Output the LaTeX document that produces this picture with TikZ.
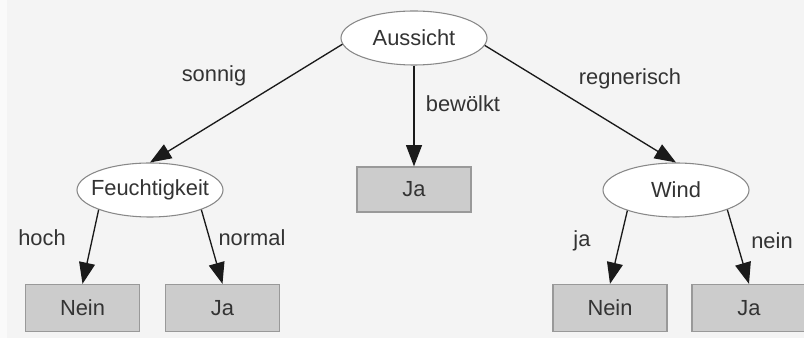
\documentclass[tikz,border=0pt]{standalone}
\usepackage{fontspec}
\setmainfont{Liberation Sans}
\usetikzlibrary{shapes.geometric,arrows.meta}
\definecolor{bgcol}{HTML}{F4F4F4}
\definecolor{stripcol}{HTML}{FAFAFA}
\definecolor{txtcol}{HTML}{333333}
\definecolor{boxfill}{HTML}{CCCCCC}
\definecolor{boxline}{HTML}{999999}
\definecolor{ellline}{HTML}{888888}
\definecolor{edgecol}{HTML}{1A1A1A}
% ellipse size is fixed; the label is centred in a zero-width box
\newcommand{\ctrtext}[1]{\makebox[0pt][c]{#1}}
\tikzset{
  attr/.style={ellipse, draw=ellline, line width=0.8pt, fill=white,
    minimum width=109.5pt, minimum height=40.5pt, inner sep=0pt,
    text=txtcol, font=\fontsize{16.4}{19}\selectfont},
  leaf/.style={rectangle, draw=boxline, line width=1.2pt, fill=boxfill,
    minimum width=85.5pt, minimum height=35pt, inner sep=0pt,
    text=txtcol, font=\fontsize{16.4}{19}\selectfont},
  elabel/.style={text=txtcol, font=\fontsize{16.4}{19}\selectfont, inner sep=0pt},
  edge/.style={draw=edgecol, line width=1pt,
    -{Triangle[length=16pt,width=12pt]}},
}
\begin{document}
\begin{tikzpicture}[x=0.75pt,y=-0.75pt]
  % canvas
  \fill[bgcol] (0,0) rectangle (804,338);
  \fill[stripcol] (0,0) rectangle (7,338);
  \useasboundingbox (0,0) rectangle (804,338);

  % decision nodes
  \node[attr] (aussicht) at (414,38) {\ctrtext{Aussicht}};
  \node[attr] (feucht) at (150,190) {\ctrtext{Feuchtigkeit}};
  \node[attr] (wind) at (676,190) {\ctrtext{Wind}};

  % leaves
  \node[leaf] (neinL) at (82.5,308) {Nein};
  \node[leaf] (jaL) at (222.5,308) {Ja};
  \node[leaf, minimum height=33.5pt] (jaM) at (414,189.5) {Ja};
  \node[leaf] (neinR) at (610,308) {Nein};
  \node[leaf] (jaR) at (749,308) {Ja};

  % branches
  \draw[edge] (aussicht.185) -- (feucht.north);
  \draw[edge] (aussicht.south) -- (jaM.north);
  \draw[edge] (aussicht.354) -- (wind.north);
  \draw[edge] (feucht.201) -- (neinL.north);
  \draw[edge] (feucht.339) -- (jaL.north);
  \draw[edge] (wind.203) -- (neinR.north);
  \draw[edge] (wind.339) -- (jaR.north);

  % branch labels
  \node[elabel] (lsonnig) at (214,76) {sonnig};
  \node[elabel] (lbew) at (463,104) {bewölkt};
  \node[elabel] (lregen) at (630,79) {regnerisch};
  \node[elabel] (lhoch) at (42,238) {hoch};
  \node[elabel] (lnormal) at (252,238) {normal};
  \node[elabel] (lja) at (582,241) {ja};
  \node[elabel] (lnein) at (772,241) {nein};
\end{tikzpicture}
\end{document}
